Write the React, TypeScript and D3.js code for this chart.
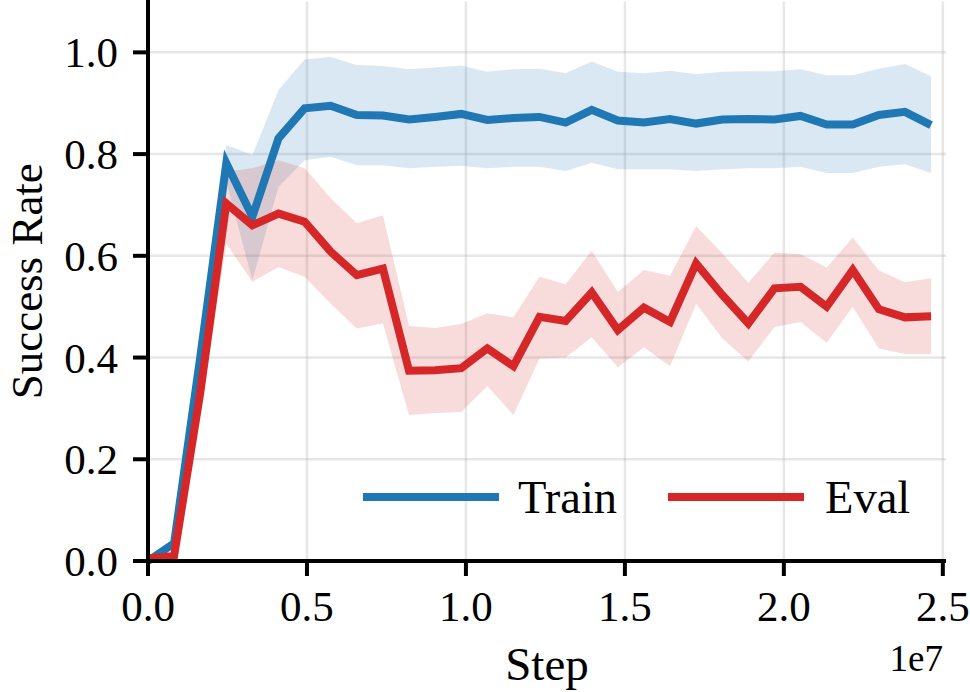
import * as d3 from "d3";
import { useEffect, useRef } from "react";

const width = 970;
const height = 692;
const margin = { top: 1.5, right: 24, bottom: 131, left: 148 };

// evaluation steps (x 1e7)
const steps = [
  0, 0.0821, 0.1642, 0.2463, 0.3284, 0.4105, 0.4926, 0.5747, 0.6568, 0.7389,
  0.821, 0.9031, 0.9852, 1.0673, 1.1494, 1.2315, 1.3136, 1.3957, 1.4778,
  1.5599, 1.642, 1.7241, 1.8062, 1.8883, 1.9704, 2.0525, 2.1346, 2.2167,
  2.2988, 2.3809, 2.463,
].map((s) => s * 1e7);

const trainMean = [
  0.0, 0.035, 0.4, 0.782, 0.677, 0.831, 0.89, 0.895, 0.877, 0.876, 0.868,
  0.873, 0.879, 0.867, 0.871, 0.873, 0.862, 0.887, 0.866, 0.862, 0.869, 0.86,
  0.868, 0.869, 0.868, 0.875, 0.858, 0.858, 0.877, 0.883, 0.857,
];
const trainUpper = [
  0.0, 0.045, 0.45, 0.818, 0.798, 0.926, 0.986, 0.991, 0.975, 0.973, 0.967,
  0.97, 0.974, 0.962, 0.967, 0.968, 0.959, 0.982, 0.962, 0.959, 0.964, 0.957,
  0.962, 0.963, 0.963, 0.967, 0.955, 0.955, 0.968, 0.977, 0.953,
];
const trainLower = [
  0.0, 0.025, 0.35, 0.745, 0.552, 0.736, 0.788, 0.795, 0.778, 0.778, 0.772,
  0.775, 0.777, 0.772, 0.775, 0.775, 0.767, 0.783, 0.77, 0.77, 0.77, 0.767,
  0.77, 0.772, 0.772, 0.775, 0.763, 0.763, 0.775, 0.78, 0.763,
];

const evalMean = [
  0.005, 0.01, 0.33, 0.703, 0.66, 0.683, 0.667, 0.608, 0.562, 0.575, 0.374,
  0.375, 0.379, 0.418, 0.383, 0.48, 0.472, 0.528, 0.454, 0.498, 0.47, 0.585,
  0.523, 0.467, 0.536, 0.539, 0.5, 0.572, 0.495, 0.479, 0.481,
];
const evalUpper = [
  0.005, 0.015, 0.37, 0.766, 0.772, 0.788, 0.772, 0.713, 0.664, 0.68, 0.462,
  0.458, 0.466, 0.487, 0.479, 0.559, 0.544, 0.61, 0.529, 0.572, 0.561, 0.658,
  0.605, 0.547, 0.606, 0.603, 0.577, 0.636, 0.571, 0.548, 0.556,
];
const evalLower = [
  0.005, 0.005, 0.29, 0.624, 0.549, 0.578, 0.559, 0.506, 0.457, 0.467, 0.287,
  0.291, 0.293, 0.344, 0.287, 0.398, 0.4, 0.44, 0.381, 0.42, 0.383, 0.506,
  0.438, 0.392, 0.46, 0.47, 0.429, 0.5, 0.418, 0.407, 0.407,
];

const xTicks = [0, 0.5e7, 1e7, 1.5e7, 2e7, 2.5e7];
const xTickLabels = ["0.0", "0.5", "1.0", "1.5", "2.0", "2.5"];
const yTicks = [0, 0.2, 0.4, 0.6, 0.8, 1.0];
const yTickLabels = ["0.0", "0.2", "0.4", "0.6", "0.8", "1.0"];

const seriesNames = ["Train", "Eval"];
const seriesColors = ["#1f77b4", "#d62728"];

const font = "'Liberation Serif', 'Times New Roman', serif";

export default function App() {
  const svgRef = useRef<SVGSVGElement | null>(null);

  useEffect(() => {
    const svg = d3.select(svgRef.current);
    svg.selectAll("*").remove();

    const x = d3
      .scaleLinear()
      .domain([0, 2.51e7])
      .range([margin.left, width - margin.right]);
    const y = d3
      .scaleLinear()
      .domain([0, 1.1])
      .range([height - margin.bottom, margin.top]);

    const x0 = x.range()[0];
    const x1 = x.range()[1];
    const y0 = y.range()[0];
    const y1 = y.range()[1];

    // grid
    const grid = svg.append("g");
    grid
      .selectAll(".vgrid")
      .data(xTicks.slice(1))
      .join("line")
      .attr("x1", (d) => x(d))
      .attr("x2", (d) => x(d))
      .attr("y1", y0)
      .attr("y2", y1)
      .style("stroke", "#b0b0b0")
      .style("stroke-opacity", 0.3)
      .style("stroke-width", 2.5);
    grid
      .selectAll(".hgrid")
      .data(yTicks.slice(1))
      .join("line")
      .attr("x1", x0)
      .attr("x2", x1)
      .attr("y1", (d) => y(d))
      .attr("y2", (d) => y(d))
      .style("stroke", "#b0b0b0")
      .style("stroke-opacity", 0.3)
      .style("stroke-width", 2.5);

    const series = [
      { mean: trainMean, lo: trainLower, hi: trainUpper },
      { mean: evalMean, lo: evalLower, hi: evalUpper },
    ];

    // shaded bands
    series.forEach((s, k) => {
      const band = d3
        .area<number>()
        .x((_, i) => x(steps[i]))
        .y0((_, i) => y(s.lo[i]))
        .y1((_, i) => y(s.hi[i]));
      svg
        .append("path")
        .datum(s.mean)
        .attr("d", band)
        .style("fill", seriesColors[k])
        .style("fill-opacity", 0.17)
        .style("stroke", "none");
    });

    // mean lines
    series.forEach((s, k) => {
      const line = d3
        .line<number>()
        .x((_, i) => x(steps[i]))
        .y((d) => y(d));
      svg
        .append("path")
        .datum(s.mean)
        .attr("d", line)
        .style("fill", "none")
        .style("stroke", seriesColors[k])
        .style("stroke-width", 8)
        .style("stroke-linejoin", "miter")
        .style("stroke-miterlimit", 4)
        .style("stroke-linecap", "butt");
    });

    // spines
    svg
      .append("line")
      .attr("x1", x0)
      .attr("x2", x0)
      .attr("y1", y0 + 2)
      .attr("y2", 0)
      .style("stroke", "#000")
      .style("stroke-width", 4);
    svg
      .append("line")
      .attr("x1", x0 - 2)
      .attr("x2", x1)
      .attr("y1", y0)
      .attr("y2", y0)
      .style("stroke", "#000")
      .style("stroke-width", 4);

    // x ticks
    const xt = svg
      .append("g")
      .selectAll("g")
      .data(xTicks)
      .join("g")
      .attr("transform", (d) => `translate(${x(d)},${y0})`);
    xt.append("line")
      .attr("y1", 0)
      .attr("y2", 15)
      .style("stroke", "#000")
      .style("stroke-width", 4);
    xt.append("text")
      .attr("y", 60)
      .attr("text-anchor", "middle")
      .text((_, i) => xTickLabels[i])
      .style("font-family", font)
      .style("font-size", "43px")
      .style("fill", "#000");

    // y ticks
    const yt = svg
      .append("g")
      .selectAll("g")
      .data(yTicks)
      .join("g")
      .attr("transform", (d) => `translate(${x0},${y(d)})`);
    yt.append("line")
      .attr("x1", 0)
      .attr("x2", -15)
      .style("stroke", "#000")
      .style("stroke-width", 4);
    yt.append("text")
      .attr("x", -30)
      .attr("dy", "0.35em")
      .attr("text-anchor", "end")
      .text((_, i) => yTickLabels[i])
      .style("font-family", font)
      .style("font-size", "43px")
      .style("fill", "#000");

    // axis labels
    svg
      .append("text")
      .attr("x", (x0 + x1) / 2)
      .attr("y", 680)
      .attr("text-anchor", "middle")
      .text("Step")
      .style("font-family", font)
      .style("font-size", "47px")
      .style("fill", "#000");

    svg
      .append("text")
      .attr("x", 943)
      .attr("y", 671)
      .attr("text-anchor", "end")
      .text("1e7")
      .style("font-family", font)
      .style("font-size", "37px")
      .style("fill", "#000");

    svg
      .append("text")
      .attr("transform", `translate(42,${(y0 + y1) / 2}) rotate(-90)`)
      .attr("text-anchor", "middle")
      .text("Success Rate")
      .style("font-family", font)
      .style("font-size", "45px")
      .style("fill", "#000");

    // legend
    const legendItems = [
      { x: 363, textX: 518 },
      { x: 668, textX: 825 },
    ];
    const legend = svg.append("g");
    legendItems.forEach((item, k) => {
      legend
        .append("line")
        .attr("x1", item.x)
        .attr("x2", item.x + 136)
        .attr("y1", 497)
        .attr("y2", 497)
        .style("stroke", seriesColors[k])
        .style("stroke-width", 8);
      legend
        .append("text")
        .attr("x", item.textX)
        .attr("y", 513)
        .text(seriesNames[k])
        .style("font-family", font)
        .style("font-size", "46.5px")
        .style("fill", "#000");
    });
  }, []);

  return (
    <svg
      ref={svgRef}
      width={width}
      height={height}
      style={{ position: "absolute", left: 0, top: 0, background: "#fff" }}
    ></svg>
  );
}
